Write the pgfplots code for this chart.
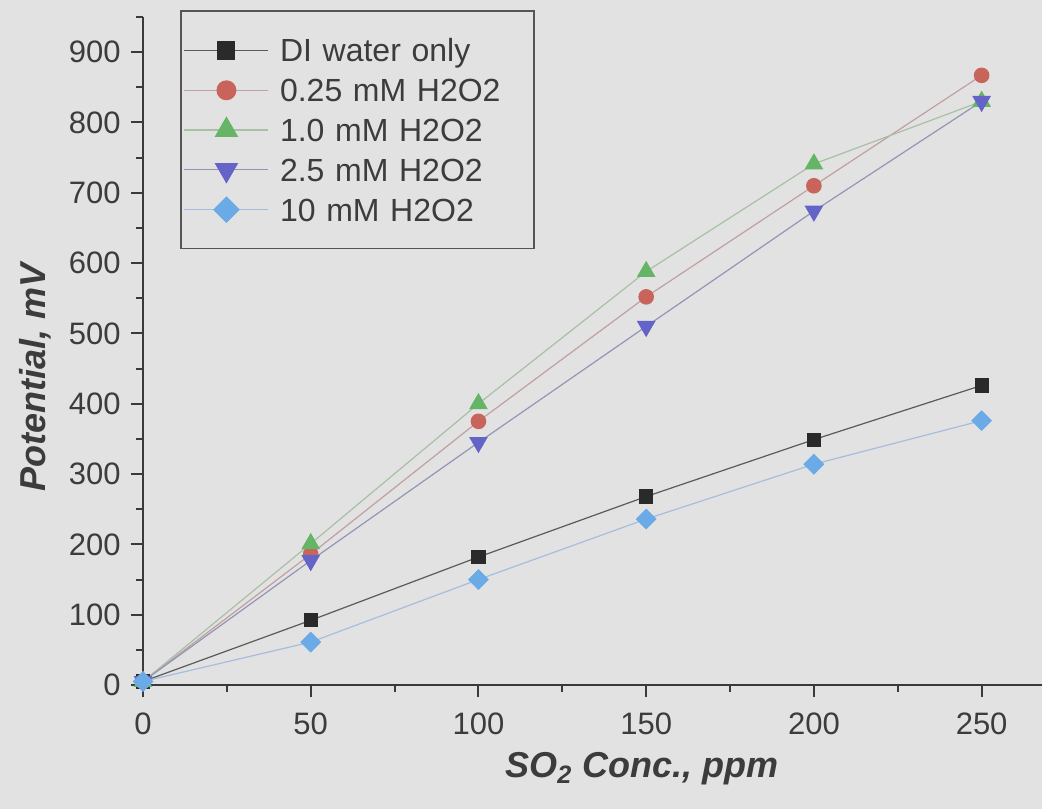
\documentclass[border=0pt]{standalone}
\usepackage{pgfplots}
\pgfplotsset{compat=1.18}
\usepackage{fontspec}
\setmainfont{Liberation Sans}
\definecolor{bg}{HTML}{E2E2E2}
\definecolor{textc}{HTML}{3C3C3C}
\definecolor{axisc}{HTML}{3A3A3A}
\definecolor{legc}{HTML}{555555}
\definecolor{mkblack}{HTML}{2A2A2A}
\definecolor{mkred}{HTML}{C8645A}
\definecolor{mkgreen}{HTML}{66B466}
\definecolor{mkblue}{HTML}{6464C8}
\definecolor{mklblue}{HTML}{6AAAE6}
\definecolor{lnblack}{HTML}{5A5A5A}
\definecolor{lnred}{HTML}{C0A0A0}
\definecolor{lngreen}{HTML}{A8C0A4}
\definecolor{lnblue}{HTML}{9494B8}
\definecolor{lnlblue}{HTML}{A6BEDC}
\begin{document}
\begin{tikzpicture}
\fill[bg] (-71.5pt,-62pt) rectangle (449.5pt,342.5pt);
\begin{axis}[
  at={(0,0)}, anchor=south west,
  scale only axis, width=449.5pt, height=334pt,
  xmin=0, xmax=268, ymin=0, ymax=950,
  axis lines=left,
  axis line style={-, line width=1pt, draw=axisc},
  every outer x axis line/.append style={-},
  every outer y axis line/.append style={-},
  xtick={0,50,...,250}, ytick={0,100,...,900},
  minor xtick={25,75,...,225}, minor ytick={50,150,...,950},
  tick align=outside,
  major tick length=6pt, minor tick length=3.5pt,
  every tick/.style={line width=1pt, draw=axisc},
  /pgf/number format/assume math mode=true,
  ticklabel style={font=\fontsize{15.5}{18}\selectfont, text=textc, inner sep=0pt},
  xticklabel style={anchor=north, yshift=-7.5pt},
  yticklabel style={anchor=east, xshift=-5pt},
  xlabel={SO\textsubscript{2} Conc., ppm},
  ylabel={Potential, mV},
  label style={font=\fontsize{18}{21}\selectfont\bfseries\itshape, text=textc},
  xlabel style={at={(axis description cs:0.555,-0.1392)}, anchor=base},
  ylabel style={at={(axis description cs:-0.108,0.461)}, anchor=base},
  legend style={at={(axis description cs:0.0412,1.0105)}, anchor=north west,
    draw=legc, line width=0.8pt, fill=bg,
    font=\fontsize{16}{19}\selectfont, text=textc,
    inner xsep=1.5pt, inner ysep=12.6pt, row sep=5.9pt, column sep=5.5pt,
    nodes={inner sep=0pt, text height=13pt, text depth=1pt, text width=125.5pt, align=left},
    cells={anchor=base west}},
  legend image code/.code={
    \draw[mark repeat=2, mark phase=2, every mark/.append style={scale=1.3}]
      plot coordinates {(0pt,5.75pt) (21pt,5.75pt) (42pt,5.75pt)};
  },
]
\addplot[color=lnblack, line width=0.6pt, mark=square*, mark size=3.25pt,
  mark options={draw=mkblack, fill=mkblack}]
  coordinates {(0,5)(50,92)(100,182)(150,268)(200,349)(250,426)};
\addlegendentry{DI water only}
\addplot[color=lnred, line width=0.6pt, mark=*, mark size=3.6pt,
  mark options={draw=mkred, fill=mkred}]
  coordinates {(0,5)(50,186)(100,375)(150,552)(200,710)(250,867)};
\addlegendentry{0.25 mM H2O2}
\addplot[color=lngreen, line width=0.6pt, mark=triangle*, mark size=4.8pt,
  mark options={draw=mkgreen, fill=mkgreen}]
  coordinates {(0,5)(50,201)(100,400)(150,588)(200,741)(250,830)};
\addlegendentry{1.0 mM H2O2}
\addplot[color=lnblue, line width=0.6pt, mark=triangle*, mark size=4.8pt,
  mark options={draw=mkblue, fill=mkblue, rotate=180}]
  coordinates {(0,5)(50,177)(100,345)(150,510)(200,674)(250,830)};
\addlegendentry{2.5 mM H2O2}
\addplot[color=lnlblue, line width=0.6pt, mark=square*, mark size=3.4pt,
  mark options={draw=mklblue, fill=mklblue, rotate=45}]
  coordinates {(0,5)(50,61)(100,150)(150,236)(200,314)(250,376)};
\addlegendentry{10 mM H2O2}
\end{axis}
\pgfresetboundingbox
\useasboundingbox (-71.5pt,-62pt) rectangle (449.5pt,342.5pt);
\end{tikzpicture}
\end{document}
